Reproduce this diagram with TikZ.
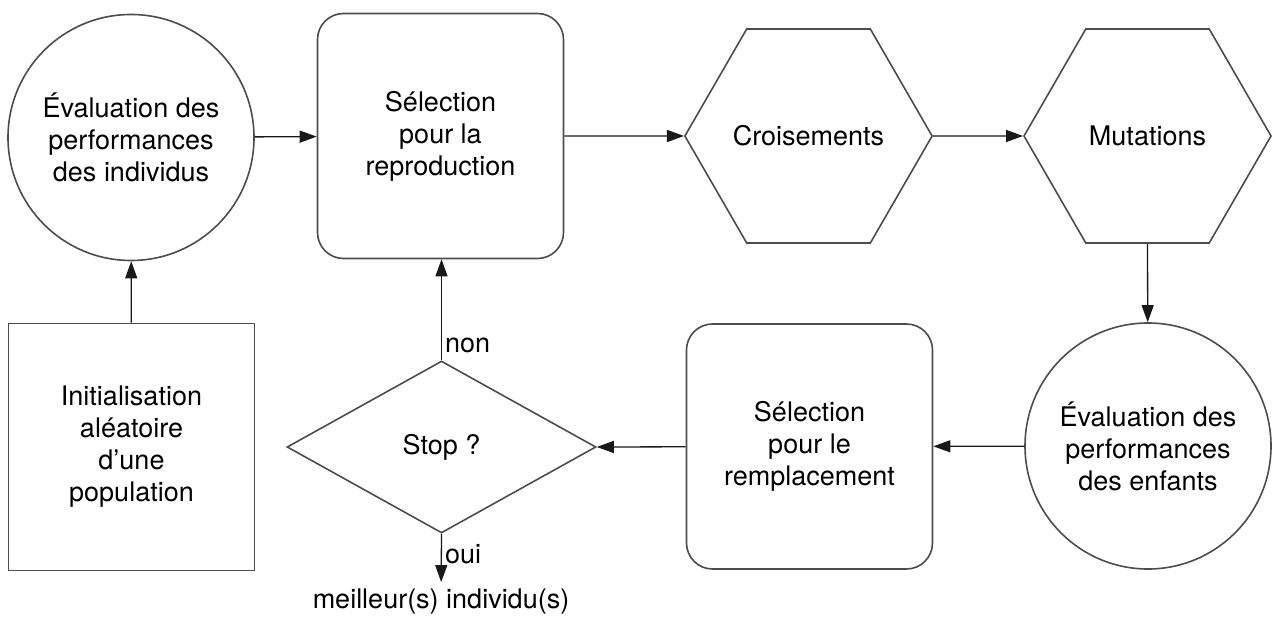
\documentclass[tikz,border=0pt]{standalone}
\usepackage{fontspec}
\setmainfont{TeX Gyre Heros}
\usetikzlibrary{positioning, shapes.geometric, arrows.meta}

\begin{document}
\begin{tikzpicture}[x=1pt, y=-1pt,
  font=\fontsize{27}{32}\selectfont,
  base/.style={draw=black!70, line width=1.6pt, align=center, inner sep=0pt},
  rond/.style={base, circle, minimum size=246pt},
  boite/.style={base, rectangle, rounded corners=26pt, minimum width=246pt, minimum height=245pt},
  carre/.style={base, rectangle, minimum width=246pt, minimum height=247pt},
  hexa/.style={base, regular polygon, regular polygon sides=6, minimum size=247pt},
  losange/.style={base, diamond, minimum width=309pt, minimum height=172pt},
  fl/.style={draw=black!90, line width=1.3pt, -{Triangle[length=17pt, width=12pt]}}]
  \useasboundingbox (0,0) rectangle (1273,617);
  % top row
  \node[rond]  (eval1) at (131,137.5) {Évaluation des\\performances\\des individus};
  \node[boite] (sel1)  at (440.5,136) {Sélection\\pour la\\reproduction};
  \node[hexa]  (crois) at (808.5,136) {Croisements};
  \node[hexa]  (mut)   at (1147.5,136) {Mutations};
  % bottom row
  \node[carre]   (init)  at (131.5,447) {Initialisation\\aléatoire\\d’une\\population};
  \node[losange] (stop)  at (441.5,447) {Stop ?};
  \node[boite]   (sel2)  at (809.5,446.5) {Sélection\\pour le\\remplacement};
  \node[rond]    (eval2) at (1148,446) {Évaluation des\\performances\\des enfants};
  \node[inner sep=7pt] (best) at (441,602) {meilleur(s) individu(s)};
  % arrows
  \draw[fl] (init) -- (eval1);
  \draw[fl] (eval1) -- (sel1);
  \draw[fl] (sel1) -- (crois.west);
  \draw[fl] (crois.east) -- (mut.west);
  \draw[fl] (mut.south) -- (eval2);
  \draw[fl] (eval2) -- (sel2);
  \draw[fl] (sel2) -- (stop.east);
  \draw[fl] (stop.north) -- node[pos=0.15, right, inner sep=3pt] {non} (sel1.south -| stop.north);
  \draw[fl] (stop.south) -- node[pos=0.42, right, inner sep=3pt] {oui} (best);
\end{tikzpicture}
\end{document}
